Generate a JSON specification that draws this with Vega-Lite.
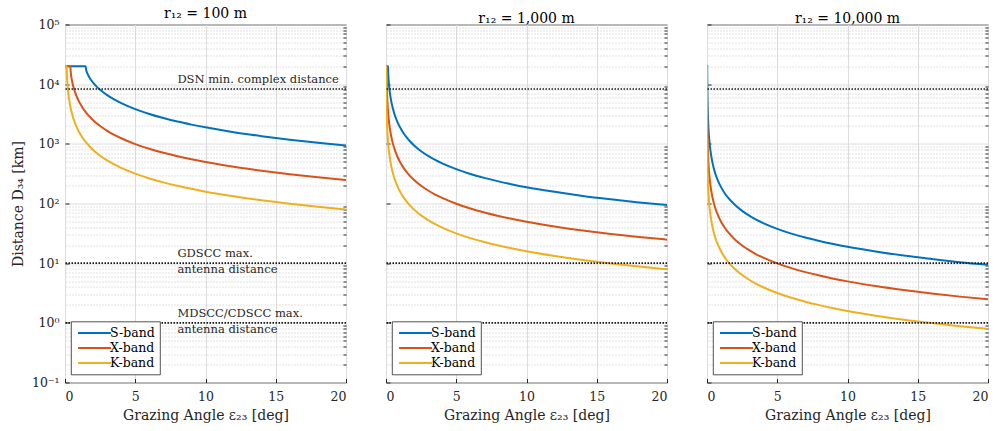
{
  "$schema": "https://vega.github.io/schema/vega-lite/v6.json",
  "background": "white",
  "padding": {"left": 10, "top": 5.5, "right": 5, "bottom": 2},
  "bounds": "flush",
  "spacing": 40,
  "config": {
    "view": {"stroke": "#262626", "strokeWidth": 1},
    "font": "DejaVu Serif",
    "axis": {"labelFont": "DejaVu Serif", "labelFontSize": 12.5, "titleFont": "DejaVu Serif", "titleFontSize": 14, "titleFontWeight": "normal", "labelColor": "#262626", "titleColor": "#262626", "domain": false, "tickColor": "#262626", "gridColor": "#dcdcdc", "gridWidth": 1},
    "legend": {"fillColor": "white", "strokeColor": "#262626", "strokeWidth": 0.8, "padding": 5, "labelFont": "DejaVu Serif", "labelFontSize": 12.5, "labelColor": "#000", "symbolType": "M-3,0H3", "symbolSize": 121, "symbolStrokeWidth": 2, "rowPadding": 2, "symbolOffset": 12, "labelOffset": 9}
  },
  "resolve": {"scale": {"color": "independent"}, "legend": {"color": "independent"}},
  "datasets": {
    "curves": [
      {"panel": 1, "band": "S-band", "eps": 0, "dist": 20000},
      {"panel": 1, "band": "S-band", "eps": 1.47, "dist": 20000},
      {"panel": 1, "band": "S-band", "eps": 1.5, "dist": 17700},
      {"panel": 1, "band": "S-band", "eps": 1.55, "dist": 16000},
      {"panel": 1, "band": "S-band", "eps": 1.6, "dist": 15000},
      {"panel": 1, "band": "S-band", "eps": 1.7, "dist": 13400},
      {"panel": 1, "band": "S-band", "eps": 1.8, "dist": 12200},
      {"panel": 1, "band": "S-band", "eps": 2, "dist": 10600},
      {"panel": 1, "band": "S-band", "eps": 2.25, "dist": 9100},
      {"panel": 1, "band": "S-band", "eps": 2.5, "dist": 8050},
      {"panel": 1, "band": "S-band", "eps": 3, "dist": 6550},
      {"panel": 1, "band": "S-band", "eps": 3.5, "dist": 5540},
      {"panel": 1, "band": "S-band", "eps": 4, "dist": 4810},
      {"panel": 1, "band": "S-band", "eps": 5, "dist": 3820},
      {"panel": 1, "band": "S-band", "eps": 6, "dist": 3170},
      {"panel": 1, "band": "S-band", "eps": 7, "dist": 2710},
      {"panel": 1, "band": "S-band", "eps": 8, "dist": 2360},
      {"panel": 1, "band": "S-band", "eps": 9, "dist": 2100},
      {"panel": 1, "band": "S-band", "eps": 10, "dist": 1890},
      {"panel": 1, "band": "S-band", "eps": 12, "dist": 1570},
      {"panel": 1, "band": "S-band", "eps": 14, "dist": 1345},
      {"panel": 1, "band": "S-band", "eps": 16, "dist": 1175},
      {"panel": 1, "band": "S-band", "eps": 18, "dist": 1045},
      {"panel": 1, "band": "S-band", "eps": 20, "dist": 940},
      {"panel": 1, "band": "X-band", "eps": 0, "dist": 20000},
      {"panel": 1, "band": "X-band", "eps": 0.388, "dist": 20000},
      {"panel": 1, "band": "X-band", "eps": 0.4, "dist": 16950},
      {"panel": 1, "band": "X-band", "eps": 0.42, "dist": 15050},
      {"panel": 1, "band": "X-band", "eps": 0.45, "dist": 13300},
      {"panel": 1, "band": "X-band", "eps": 0.5, "dist": 11330},
      {"panel": 1, "band": "X-band", "eps": 0.55, "dist": 10000},
      {"panel": 1, "band": "X-band", "eps": 0.6, "dist": 8970},
      {"panel": 1, "band": "X-band", "eps": 0.7, "dist": 7500},
      {"panel": 1, "band": "X-band", "eps": 0.8, "dist": 6460},
      {"panel": 1, "band": "X-band", "eps": 0.9, "dist": 5690},
      {"panel": 1, "band": "X-band", "eps": 1, "dist": 5090},
      {"panel": 1, "band": "X-band", "eps": 1.25, "dist": 4030},
      {"panel": 1, "band": "X-band", "eps": 1.5, "dist": 3340},
      {"panel": 1, "band": "X-band", "eps": 1.75, "dist": 2850},
      {"panel": 1, "band": "X-band", "eps": 2, "dist": 2490},
      {"panel": 1, "band": "X-band", "eps": 2.5, "dist": 1990},
      {"panel": 1, "band": "X-band", "eps": 3, "dist": 1655},
      {"panel": 1, "band": "X-band", "eps": 3.5, "dist": 1417},
      {"panel": 1, "band": "X-band", "eps": 4, "dist": 1240},
      {"panel": 1, "band": "X-band", "eps": 5, "dist": 991},
      {"panel": 1, "band": "X-band", "eps": 6, "dist": 825},
      {"panel": 1, "band": "X-band", "eps": 7, "dist": 707},
      {"panel": 1, "band": "X-band", "eps": 8, "dist": 619},
      {"panel": 1, "band": "X-band", "eps": 9, "dist": 550},
      {"panel": 1, "band": "X-band", "eps": 10, "dist": 495},
      {"panel": 1, "band": "X-band", "eps": 12, "dist": 413},
      {"panel": 1, "band": "X-band", "eps": 14, "dist": 354},
      {"panel": 1, "band": "X-band", "eps": 16, "dist": 309},
      {"panel": 1, "band": "X-band", "eps": 18, "dist": 275},
      {"panel": 1, "band": "X-band", "eps": 20, "dist": 248},
      {"panel": 1, "band": "K-band", "eps": 0, "dist": 20000},
      {"panel": 1, "band": "K-band", "eps": 0.124, "dist": 20000},
      {"panel": 1, "band": "K-band", "eps": 0.13, "dist": 16100},
      {"panel": 1, "band": "K-band", "eps": 0.14, "dist": 13900},
      {"panel": 1, "band": "K-band", "eps": 0.16, "dist": 11300},
      {"panel": 1, "band": "K-band", "eps": 0.2, "dist": 8520},
      {"panel": 1, "band": "K-band", "eps": 0.25, "dist": 6610},
      {"panel": 1, "band": "K-band", "eps": 0.3, "dist": 5430},
      {"panel": 1, "band": "K-band", "eps": 0.4, "dist": 4020},
      {"panel": 1, "band": "K-band", "eps": 0.5, "dist": 3190},
      {"panel": 1, "band": "K-band", "eps": 0.6, "dist": 2650},
      {"panel": 1, "band": "K-band", "eps": 0.8, "dist": 1980},
      {"panel": 1, "band": "K-band", "eps": 1, "dist": 1583},
      {"panel": 1, "band": "K-band", "eps": 1.25, "dist": 1265},
      {"panel": 1, "band": "K-band", "eps": 1.5, "dist": 1053},
      {"panel": 1, "band": "K-band", "eps": 2, "dist": 790},
      {"panel": 1, "band": "K-band", "eps": 2.5, "dist": 632},
      {"panel": 1, "band": "K-band", "eps": 3, "dist": 527},
      {"panel": 1, "band": "K-band", "eps": 3.5, "dist": 451},
      {"panel": 1, "band": "K-band", "eps": 4, "dist": 395},
      {"panel": 1, "band": "K-band", "eps": 5, "dist": 316},
      {"panel": 1, "band": "K-band", "eps": 6, "dist": 263},
      {"panel": 1, "band": "K-band", "eps": 7, "dist": 226},
      {"panel": 1, "band": "K-band", "eps": 8, "dist": 198},
      {"panel": 1, "band": "K-band", "eps": 9, "dist": 176},
      {"panel": 1, "band": "K-band", "eps": 10, "dist": 158},
      {"panel": 1, "band": "K-band", "eps": 12, "dist": 132},
      {"panel": 1, "band": "K-band", "eps": 14, "dist": 113},
      {"panel": 1, "band": "K-band", "eps": 16, "dist": 99},
      {"panel": 1, "band": "K-band", "eps": 18, "dist": 88},
      {"panel": 1, "band": "K-band", "eps": 20, "dist": 79},
      {"panel": 2, "band": "S-band", "eps": 0, "dist": 20000},
      {"panel": 2, "band": "S-band", "eps": 0.147, "dist": 20000},
      {"panel": 2, "band": "S-band", "eps": 0.15, "dist": 17700},
      {"panel": 2, "band": "S-band", "eps": 0.16, "dist": 15000},
      {"panel": 2, "band": "S-band", "eps": 0.17, "dist": 13400},
      {"panel": 2, "band": "S-band", "eps": 0.18, "dist": 12200},
      {"panel": 2, "band": "S-band", "eps": 0.2, "dist": 10600},
      {"panel": 2, "band": "S-band", "eps": 0.225, "dist": 9100},
      {"panel": 2, "band": "S-band", "eps": 0.25, "dist": 8050},
      {"panel": 2, "band": "S-band", "eps": 0.3, "dist": 6550},
      {"panel": 2, "band": "S-band", "eps": 0.35, "dist": 5540},
      {"panel": 2, "band": "S-band", "eps": 0.4, "dist": 4810},
      {"panel": 2, "band": "S-band", "eps": 0.5, "dist": 3820},
      {"panel": 2, "band": "S-band", "eps": 0.6, "dist": 3170},
      {"panel": 2, "band": "S-band", "eps": 0.7, "dist": 2710},
      {"panel": 2, "band": "S-band", "eps": 0.8, "dist": 2360},
      {"panel": 2, "band": "S-band", "eps": 0.9, "dist": 2100},
      {"panel": 2, "band": "S-band", "eps": 1, "dist": 1890},
      {"panel": 2, "band": "S-band", "eps": 1.25, "dist": 1506},
      {"panel": 2, "band": "S-band", "eps": 1.5, "dist": 1254},
      {"panel": 2, "band": "S-band", "eps": 1.75, "dist": 1074},
      {"panel": 2, "band": "S-band", "eps": 2, "dist": 940},
      {"panel": 2, "band": "S-band", "eps": 2.5, "dist": 752},
      {"panel": 2, "band": "S-band", "eps": 3, "dist": 627},
      {"panel": 2, "band": "S-band", "eps": 3.5, "dist": 537},
      {"panel": 2, "band": "S-band", "eps": 4, "dist": 470},
      {"panel": 2, "band": "S-band", "eps": 5, "dist": 376},
      {"panel": 2, "band": "S-band", "eps": 6, "dist": 313},
      {"panel": 2, "band": "S-band", "eps": 7, "dist": 269},
      {"panel": 2, "band": "S-band", "eps": 8, "dist": 235},
      {"panel": 2, "band": "S-band", "eps": 9, "dist": 209},
      {"panel": 2, "band": "S-band", "eps": 10, "dist": 188},
      {"panel": 2, "band": "S-band", "eps": 12, "dist": 157},
      {"panel": 2, "band": "S-band", "eps": 14, "dist": 134},
      {"panel": 2, "band": "S-band", "eps": 16, "dist": 117.5},
      {"panel": 2, "band": "S-band", "eps": 18, "dist": 104.4},
      {"panel": 2, "band": "S-band", "eps": 20, "dist": 94},
      {"panel": 2, "band": "X-band", "eps": 0, "dist": 20000},
      {"panel": 2, "band": "X-band", "eps": 0.039, "dist": 20000},
      {"panel": 2, "band": "X-band", "eps": 0.042, "dist": 15050},
      {"panel": 2, "band": "X-band", "eps": 0.05, "dist": 11330},
      {"panel": 2, "band": "X-band", "eps": 0.06, "dist": 8970},
      {"panel": 2, "band": "X-band", "eps": 0.08, "dist": 6460},
      {"panel": 2, "band": "X-band", "eps": 0.1, "dist": 5090},
      {"panel": 2, "band": "X-band", "eps": 0.125, "dist": 4030},
      {"panel": 2, "band": "X-band", "eps": 0.15, "dist": 3340},
      {"panel": 2, "band": "X-band", "eps": 0.2, "dist": 2490},
      {"panel": 2, "band": "X-band", "eps": 0.25, "dist": 1990},
      {"panel": 2, "band": "X-band", "eps": 0.3, "dist": 1655},
      {"panel": 2, "band": "X-band", "eps": 0.4, "dist": 1240},
      {"panel": 2, "band": "X-band", "eps": 0.5, "dist": 991},
      {"panel": 2, "band": "X-band", "eps": 0.6, "dist": 825},
      {"panel": 2, "band": "X-band", "eps": 0.8, "dist": 619},
      {"panel": 2, "band": "X-band", "eps": 1, "dist": 495},
      {"panel": 2, "band": "X-band", "eps": 1.25, "dist": 396},
      {"panel": 2, "band": "X-band", "eps": 1.5, "dist": 330},
      {"panel": 2, "band": "X-band", "eps": 2, "dist": 247.5},
      {"panel": 2, "band": "X-band", "eps": 2.5, "dist": 198},
      {"panel": 2, "band": "X-band", "eps": 3, "dist": 165},
      {"panel": 2, "band": "X-band", "eps": 3.5, "dist": 141.4},
      {"panel": 2, "band": "X-band", "eps": 4, "dist": 123.8},
      {"panel": 2, "band": "X-band", "eps": 5, "dist": 99},
      {"panel": 2, "band": "X-band", "eps": 6, "dist": 82.5},
      {"panel": 2, "band": "X-band", "eps": 7, "dist": 70.7},
      {"panel": 2, "band": "X-band", "eps": 8, "dist": 61.9},
      {"panel": 2, "band": "X-band", "eps": 9, "dist": 55},
      {"panel": 2, "band": "X-band", "eps": 10, "dist": 49.5},
      {"panel": 2, "band": "X-band", "eps": 12, "dist": 41.3},
      {"panel": 2, "band": "X-band", "eps": 14, "dist": 35.4},
      {"panel": 2, "band": "X-band", "eps": 16, "dist": 30.9},
      {"panel": 2, "band": "X-band", "eps": 18, "dist": 27.5},
      {"panel": 2, "band": "X-band", "eps": 20, "dist": 24.8},
      {"panel": 2, "band": "K-band", "eps": 0, "dist": 20000},
      {"panel": 2, "band": "K-band", "eps": 0.0124, "dist": 20000},
      {"panel": 2, "band": "K-band", "eps": 0.014, "dist": 13900},
      {"panel": 2, "band": "K-band", "eps": 0.02, "dist": 8520},
      {"panel": 2, "band": "K-band", "eps": 0.03, "dist": 5430},
      {"panel": 2, "band": "K-band", "eps": 0.04, "dist": 4020},
      {"panel": 2, "band": "K-band", "eps": 0.05, "dist": 3190},
      {"panel": 2, "band": "K-band", "eps": 0.06, "dist": 2650},
      {"panel": 2, "band": "K-band", "eps": 0.08, "dist": 1980},
      {"panel": 2, "band": "K-band", "eps": 0.1, "dist": 1583},
      {"panel": 2, "band": "K-band", "eps": 0.15, "dist": 1053},
      {"panel": 2, "band": "K-band", "eps": 0.2, "dist": 790},
      {"panel": 2, "band": "K-band", "eps": 0.3, "dist": 527},
      {"panel": 2, "band": "K-band", "eps": 0.4, "dist": 395},
      {"panel": 2, "band": "K-band", "eps": 0.5, "dist": 316},
      {"panel": 2, "band": "K-band", "eps": 0.6, "dist": 263},
      {"panel": 2, "band": "K-band", "eps": 0.8, "dist": 198},
      {"panel": 2, "band": "K-band", "eps": 1, "dist": 158},
      {"panel": 2, "band": "K-band", "eps": 1.25, "dist": 126.4},
      {"panel": 2, "band": "K-band", "eps": 1.5, "dist": 105.3},
      {"panel": 2, "band": "K-band", "eps": 2, "dist": 79},
      {"panel": 2, "band": "K-band", "eps": 2.5, "dist": 63.2},
      {"panel": 2, "band": "K-band", "eps": 3, "dist": 52.7},
      {"panel": 2, "band": "K-band", "eps": 3.5, "dist": 45.1},
      {"panel": 2, "band": "K-band", "eps": 4, "dist": 39.5},
      {"panel": 2, "band": "K-band", "eps": 5, "dist": 31.6},
      {"panel": 2, "band": "K-band", "eps": 6, "dist": 26.3},
      {"panel": 2, "band": "K-band", "eps": 7, "dist": 22.6},
      {"panel": 2, "band": "K-band", "eps": 8, "dist": 19.8},
      {"panel": 2, "band": "K-band", "eps": 9, "dist": 17.6},
      {"panel": 2, "band": "K-band", "eps": 10, "dist": 15.8},
      {"panel": 2, "band": "K-band", "eps": 12, "dist": 13.2},
      {"panel": 2, "band": "K-band", "eps": 14, "dist": 11.3},
      {"panel": 2, "band": "K-band", "eps": 16, "dist": 9.9},
      {"panel": 2, "band": "K-band", "eps": 18, "dist": 8.8},
      {"panel": 2, "band": "K-band", "eps": 20, "dist": 7.9},
      {"panel": 3, "band": "S-band", "eps": 0, "dist": 20000},
      {"panel": 3, "band": "S-band", "eps": 0.0148, "dist": 20000},
      {"panel": 3, "band": "S-band", "eps": 0.016, "dist": 15000},
      {"panel": 3, "band": "S-band", "eps": 0.02, "dist": 10600},
      {"panel": 3, "band": "S-band", "eps": 0.03, "dist": 6550},
      {"panel": 3, "band": "S-band", "eps": 0.04, "dist": 4810},
      {"panel": 3, "band": "S-band", "eps": 0.05, "dist": 3820},
      {"panel": 3, "band": "S-band", "eps": 0.06, "dist": 3170},
      {"panel": 3, "band": "S-band", "eps": 0.08, "dist": 2360},
      {"panel": 3, "band": "S-band", "eps": 0.1, "dist": 1890},
      {"panel": 3, "band": "S-band", "eps": 0.15, "dist": 1254},
      {"panel": 3, "band": "S-band", "eps": 0.2, "dist": 940},
      {"panel": 3, "band": "S-band", "eps": 0.3, "dist": 627},
      {"panel": 3, "band": "S-band", "eps": 0.4, "dist": 470},
      {"panel": 3, "band": "S-band", "eps": 0.5, "dist": 376},
      {"panel": 3, "band": "S-band", "eps": 0.6, "dist": 313},
      {"panel": 3, "band": "S-band", "eps": 0.8, "dist": 235},
      {"panel": 3, "band": "S-band", "eps": 1, "dist": 188},
      {"panel": 3, "band": "S-band", "eps": 1.25, "dist": 150},
      {"panel": 3, "band": "S-band", "eps": 1.5, "dist": 125},
      {"panel": 3, "band": "S-band", "eps": 2, "dist": 94},
      {"panel": 3, "band": "S-band", "eps": 2.5, "dist": 75.2},
      {"panel": 3, "band": "S-band", "eps": 3, "dist": 62.7},
      {"panel": 3, "band": "S-band", "eps": 3.5, "dist": 53.7},
      {"panel": 3, "band": "S-band", "eps": 4, "dist": 47},
      {"panel": 3, "band": "S-band", "eps": 5, "dist": 37.6},
      {"panel": 3, "band": "S-band", "eps": 6, "dist": 31.3},
      {"panel": 3, "band": "S-band", "eps": 7, "dist": 26.9},
      {"panel": 3, "band": "S-band", "eps": 8, "dist": 23.5},
      {"panel": 3, "band": "S-band", "eps": 9, "dist": 20.9},
      {"panel": 3, "band": "S-band", "eps": 10, "dist": 18.8},
      {"panel": 3, "band": "S-band", "eps": 12, "dist": 15.7},
      {"panel": 3, "band": "S-band", "eps": 14, "dist": 13.4},
      {"panel": 3, "band": "S-band", "eps": 16, "dist": 11.75},
      {"panel": 3, "band": "S-band", "eps": 18, "dist": 10.4},
      {"panel": 3, "band": "S-band", "eps": 20, "dist": 9.4},
      {"panel": 3, "band": "X-band", "eps": 0, "dist": 20000},
      {"panel": 3, "band": "X-band", "eps": 0.0039, "dist": 20000},
      {"panel": 3, "band": "X-band", "eps": 0.005, "dist": 11330},
      {"panel": 3, "band": "X-band", "eps": 0.006, "dist": 8970},
      {"panel": 3, "band": "X-band", "eps": 0.008, "dist": 6460},
      {"panel": 3, "band": "X-band", "eps": 0.01, "dist": 5090},
      {"panel": 3, "band": "X-band", "eps": 0.015, "dist": 3340},
      {"panel": 3, "band": "X-band", "eps": 0.02, "dist": 2490},
      {"panel": 3, "band": "X-band", "eps": 0.03, "dist": 1655},
      {"panel": 3, "band": "X-band", "eps": 0.05, "dist": 991},
      {"panel": 3, "band": "X-band", "eps": 0.08, "dist": 619},
      {"panel": 3, "band": "X-band", "eps": 0.1, "dist": 495},
      {"panel": 3, "band": "X-band", "eps": 0.15, "dist": 330},
      {"panel": 3, "band": "X-band", "eps": 0.2, "dist": 247.5},
      {"panel": 3, "band": "X-band", "eps": 0.3, "dist": 165},
      {"panel": 3, "band": "X-band", "eps": 0.4, "dist": 124},
      {"panel": 3, "band": "X-band", "eps": 0.5, "dist": 99},
      {"panel": 3, "band": "X-band", "eps": 0.6, "dist": 82.5},
      {"panel": 3, "band": "X-band", "eps": 0.8, "dist": 61.9},
      {"panel": 3, "band": "X-band", "eps": 1, "dist": 49.5},
      {"panel": 3, "band": "X-band", "eps": 1.25, "dist": 39.6},
      {"panel": 3, "band": "X-band", "eps": 1.5, "dist": 33},
      {"panel": 3, "band": "X-band", "eps": 2, "dist": 24.75},
      {"panel": 3, "band": "X-band", "eps": 2.5, "dist": 19.8},
      {"panel": 3, "band": "X-band", "eps": 3, "dist": 16.5},
      {"panel": 3, "band": "X-band", "eps": 3.5, "dist": 14.1},
      {"panel": 3, "band": "X-band", "eps": 4, "dist": 12.4},
      {"panel": 3, "band": "X-band", "eps": 5, "dist": 9.9},
      {"panel": 3, "band": "X-band", "eps": 6, "dist": 8.25},
      {"panel": 3, "band": "X-band", "eps": 7, "dist": 7.07},
      {"panel": 3, "band": "X-band", "eps": 8, "dist": 6.19},
      {"panel": 3, "band": "X-band", "eps": 9, "dist": 5.5},
      {"panel": 3, "band": "X-band", "eps": 10, "dist": 4.95},
      {"panel": 3, "band": "X-band", "eps": 12, "dist": 4.13},
      {"panel": 3, "band": "X-band", "eps": 14, "dist": 3.54},
      {"panel": 3, "band": "X-band", "eps": 16, "dist": 3.09},
      {"panel": 3, "band": "X-band", "eps": 18, "dist": 2.75},
      {"panel": 3, "band": "X-band", "eps": 20, "dist": 2.48},
      {"panel": 3, "band": "K-band", "eps": 0, "dist": 20000},
      {"panel": 3, "band": "K-band", "eps": 0.0012, "dist": 20000},
      {"panel": 3, "band": "K-band", "eps": 0.002, "dist": 8520},
      {"panel": 3, "band": "K-band", "eps": 0.003, "dist": 5430},
      {"panel": 3, "band": "K-band", "eps": 0.005, "dist": 3190},
      {"panel": 3, "band": "K-band", "eps": 0.008, "dist": 1980},
      {"panel": 3, "band": "K-band", "eps": 0.01, "dist": 1583},
      {"panel": 3, "band": "K-band", "eps": 0.015, "dist": 1053},
      {"panel": 3, "band": "K-band", "eps": 0.02, "dist": 790},
      {"panel": 3, "band": "K-band", "eps": 0.03, "dist": 527},
      {"panel": 3, "band": "K-band", "eps": 0.05, "dist": 316},
      {"panel": 3, "band": "K-band", "eps": 0.08, "dist": 198},
      {"panel": 3, "band": "K-band", "eps": 0.1, "dist": 158},
      {"panel": 3, "band": "K-band", "eps": 0.15, "dist": 105},
      {"panel": 3, "band": "K-band", "eps": 0.2, "dist": 79},
      {"panel": 3, "band": "K-band", "eps": 0.3, "dist": 52.7},
      {"panel": 3, "band": "K-band", "eps": 0.4, "dist": 39.5},
      {"panel": 3, "band": "K-band", "eps": 0.5, "dist": 31.6},
      {"panel": 3, "band": "K-band", "eps": 0.6, "dist": 26.3},
      {"panel": 3, "band": "K-band", "eps": 0.8, "dist": 19.8},
      {"panel": 3, "band": "K-band", "eps": 1, "dist": 15.8},
      {"panel": 3, "band": "K-band", "eps": 1.25, "dist": 12.6},
      {"panel": 3, "band": "K-band", "eps": 1.5, "dist": 10.5},
      {"panel": 3, "band": "K-band", "eps": 2, "dist": 7.9},
      {"panel": 3, "band": "K-band", "eps": 2.5, "dist": 6.32},
      {"panel": 3, "band": "K-band", "eps": 3, "dist": 5.27},
      {"panel": 3, "band": "K-band", "eps": 3.5, "dist": 4.51},
      {"panel": 3, "band": "K-band", "eps": 4, "dist": 3.95},
      {"panel": 3, "band": "K-band", "eps": 5, "dist": 3.16},
      {"panel": 3, "band": "K-band", "eps": 6, "dist": 2.63},
      {"panel": 3, "band": "K-band", "eps": 7, "dist": 2.26},
      {"panel": 3, "band": "K-band", "eps": 8, "dist": 1.98},
      {"panel": 3, "band": "K-band", "eps": 9, "dist": 1.76},
      {"panel": 3, "band": "K-band", "eps": 10, "dist": 1.58},
      {"panel": 3, "band": "K-band", "eps": 12, "dist": 1.32},
      {"panel": 3, "band": "K-band", "eps": 14, "dist": 1.13},
      {"panel": 3, "band": "K-band", "eps": 16, "dist": 0.99},
      {"panel": 3, "band": "K-band", "eps": 18, "dist": 0.88},
      {"panel": 3, "band": "K-band", "eps": 20, "dist": 0.79}
    ],
    "refs": [
      {"name": "DSN", "dist": 8300},
      {"name": "GDSCC", "dist": 10},
      {"name": "MDSCC/CDSCC", "dist": 1}
    ],
    "notes": [
      {"text": "DSN min. complex distance", "eps": 8, "dist": 8300, "pos": "above"},
      {"text": "GDSCC max.", "eps": 8, "dist": 10, "pos": "above"},
      {"text": "antenna distance", "eps": 8, "dist": 10, "pos": "below"},
      {"text": "MDSCC/CDSCC max.", "eps": 8, "dist": 1, "pos": "above"},
      {"text": "antenna distance", "eps": 8, "dist": 1, "pos": "below"}
    ]
  },
  "hconcat": [
    {
      "width": 281, "height": 358,
      "title": {"text": "r₁₂ = 100 m", "font": "DejaVu Serif", "fontSize": 14, "fontWeight": "normal", "color": "#000", "offset": -2},
      "resolve": {"axis": {"y": "independent"}},
      "layer": [
        {
          "data": {"name": "curves"},
          "transform": [{"filter": "datum.panel == 1"}],
          "mark": {"type": "line", "strokeWidth": 2, "interpolate": "monotone", "clip": true},
          "encoding": {
            "x": {"field": "eps", "type": "quantitative", "scale": {"domain": [0, 20], "nice": false, "zero": false}, "axis": {"values": [0, 5, 10, 15, 20], "title": "Grazing Angle ε₂₃ [deg]", "grid": true, "tickSize": -4, "labelPadding": 12, "titlePadding": 5}},
            "y": {"field": "dist", "type": "quantitative", "scale": {"type": "log", "domain": [0.1, 100000], "nice": false}, "axis": {"values": [0.1, 1, 10, 100, 1000, 10000, 100000], "title": "Distance D₃₄ [km]", "grid": true, "tickSize": -4, "labelPadding": 10, "titlePadding": 6, "labelExpr": "datum.value < 0.5 ? '10⁻¹' : datum.value < 5 ? '10⁰' : datum.value < 50 ? '10¹' : datum.value < 500 ? '10²' : datum.value < 5000 ? '10³' : datum.value < 50000 ? '10⁴' : '10⁵'"}},
            "color": {"field": "band", "type": "nominal", "sort": null, "scale": {"domain": ["S-band", "X-band", "K-band"], "range": ["#0072BD", "#D95319", "#EDB120"]}, "legend": {"orient": "none", "legendX": 6, "legendY": 297, "title": null}}
          }
        },
        {
          "data": {"name": "refs"},
          "mark": {"type": "rule", "strokeDash": [1.5, 1.5], "strokeWidth": 1.6, "color": "#1a1a1a"},
          "encoding": {
            "y": {"field": "dist", "type": "quantitative", "axis": {"orient": "right", "title": null, "labels": false, "grid": true, "gridDash": [1, 2], "gridColor": "#c4c4c4", "tickSize": -3, "values": [0.2, 0.3, 0.4, 0.5, 0.6, 0.7, 0.8, 0.9, 2, 3, 4, 5, 6, 7, 8, 9, 20, 30, 40, 50, 60, 70, 80, 90, 200, 300, 400, 500, 600, 700, 800, 900, 2000, 3000, 4000, 5000, 6000, 7000, 8000, 9000, 20000, 30000, 40000, 50000, 60000, 70000, 80000, 90000]}}
          }
        },
        {
          "data": {"name": "notes"},
          "transform": [{"filter": "datum.pos == 'above'"}],
          "mark": {"type": "text", "align": "left", "baseline": "middle", "dy": -9, "fontSize": 11.5, "font": "DejaVu Serif", "color": "#262626"},
          "encoding": {"x": {"field": "eps", "type": "quantitative"}, "y": {"field": "dist", "type": "quantitative", "axis": null}, "text": {"field": "text"}}
        },
        {
          "data": {"name": "notes"},
          "transform": [{"filter": "datum.pos == 'below'"}],
          "mark": {"type": "text", "align": "left", "baseline": "middle", "dy": 7, "fontSize": 11.5, "font": "DejaVu Serif", "color": "#262626"},
          "encoding": {"x": {"field": "eps", "type": "quantitative"}, "y": {"field": "dist", "type": "quantitative", "axis": null}, "text": {"field": "text"}}
        }
      ]
    },
    {
      "width": 281, "height": 358,
      "title": {"text": "r₁₂ = 1,000 m", "font": "DejaVu Serif", "fontSize": 14, "fontWeight": "normal", "color": "#000", "offset": -2},
      "resolve": {"axis": {"y": "independent"}},
      "layer": [
        {
          "data": {"name": "curves"},
          "transform": [{"filter": "datum.panel == 2"}],
          "mark": {"type": "line", "strokeWidth": 2, "interpolate": "monotone", "clip": true},
          "encoding": {
            "x": {"field": "eps", "type": "quantitative", "scale": {"domain": [0, 20], "nice": false, "zero": false}, "axis": {"values": [0, 5, 10, 15, 20], "title": "Grazing Angle ε₂₃ [deg]", "grid": true, "tickSize": -4, "labelPadding": 12, "titlePadding": 5}},
            "y": {"field": "dist", "type": "quantitative", "scale": {"type": "log", "domain": [0.1, 100000], "nice": false}, "axis": {"values": [0.1, 1, 10, 100, 1000, 10000, 100000], "title": null, "labels": false, "grid": true, "tickSize": -4}},
            "color": {"field": "band", "type": "nominal", "sort": null, "scale": {"domain": ["S-band", "X-band", "K-band"], "range": ["#0072BD", "#D95319", "#EDB120"]}, "legend": {"orient": "none", "legendX": 6, "legendY": 297, "title": null}}
          }
        },
        {
          "data": {"name": "refs"},
          "mark": {"type": "rule", "strokeDash": [1.5, 1.5], "strokeWidth": 1.6, "color": "#1a1a1a"},
          "encoding": {
            "y": {"field": "dist", "type": "quantitative", "axis": {"orient": "right", "title": null, "labels": false, "grid": true, "gridDash": [1, 2], "gridColor": "#c4c4c4", "tickSize": -3, "values": [0.2, 0.3, 0.4, 0.5, 0.6, 0.7, 0.8, 0.9, 2, 3, 4, 5, 6, 7, 8, 9, 20, 30, 40, 50, 60, 70, 80, 90, 200, 300, 400, 500, 600, 700, 800, 900, 2000, 3000, 4000, 5000, 6000, 7000, 8000, 9000, 20000, 30000, 40000, 50000, 60000, 70000, 80000, 90000]}}
          }
        }
      ]
    },
    {
      "width": 281, "height": 358,
      "title": {"text": "r₁₂ = 10,000 m", "font": "DejaVu Serif", "fontSize": 14, "fontWeight": "normal", "color": "#000", "offset": -2},
      "resolve": {"axis": {"y": "independent"}},
      "layer": [
        {
          "data": {"name": "curves"},
          "transform": [{"filter": "datum.panel == 3"}],
          "mark": {"type": "line", "strokeWidth": 2, "interpolate": "monotone", "clip": true},
          "encoding": {
            "x": {"field": "eps", "type": "quantitative", "scale": {"domain": [0, 20], "nice": false, "zero": false}, "axis": {"values": [0, 5, 10, 15, 20], "title": "Grazing Angle ε₂₃ [deg]", "grid": true, "tickSize": -4, "labelPadding": 12, "titlePadding": 5}},
            "y": {"field": "dist", "type": "quantitative", "scale": {"type": "log", "domain": [0.1, 100000], "nice": false}, "axis": {"values": [0.1, 1, 10, 100, 1000, 10000, 100000], "title": null, "labels": false, "grid": true, "tickSize": -4}},
            "color": {"field": "band", "type": "nominal", "sort": null, "scale": {"domain": ["S-band", "X-band", "K-band"], "range": ["#0072BD", "#D95319", "#EDB120"]}, "legend": {"orient": "none", "legendX": 6, "legendY": 297, "title": null}}
          }
        },
        {
          "data": {"name": "refs"},
          "mark": {"type": "rule", "strokeDash": [1.5, 1.5], "strokeWidth": 1.6, "color": "#1a1a1a"},
          "encoding": {
            "y": {"field": "dist", "type": "quantitative", "axis": {"orient": "right", "title": null, "labels": false, "grid": true, "gridDash": [1, 2], "gridColor": "#c4c4c4", "tickSize": -3, "values": [0.2, 0.3, 0.4, 0.5, 0.6, 0.7, 0.8, 0.9, 2, 3, 4, 5, 6, 7, 8, 9, 20, 30, 40, 50, 60, 70, 80, 90, 200, 300, 400, 500, 600, 700, 800, 900, 2000, 3000, 4000, 5000, 6000, 7000, 8000, 9000, 20000, 30000, 40000, 50000, 60000, 70000, 80000, 90000]}}
          }
        }
      ]
    }
  ]
}
